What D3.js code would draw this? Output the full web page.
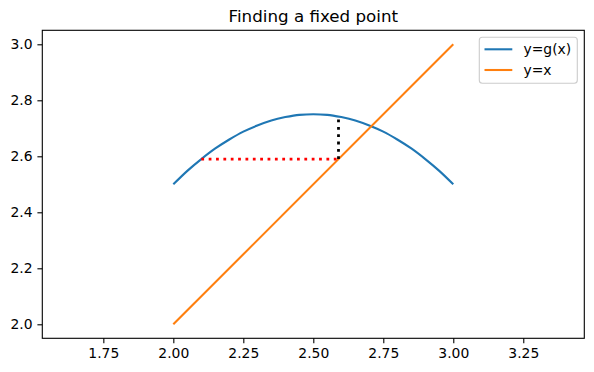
<!DOCTYPE html>
<html><head><meta charset="utf-8">
<script src="https://cdn.jsdelivr.net/npm/d3@7"></script>
<style>body{margin:0;background:#fff}text{font-family:"DejaVu Sans",sans-serif}</style>
</head><body><svg id="c" width="594" height="372"></svg>
<script>
const gX = [2.00,2.05,2.10,2.15,2.20,2.25,2.30,2.35,2.40,2.45,2.50,2.55,2.60,2.65,2.70,2.75,2.80,2.85,2.90,2.95,3.00];
const gY = [2.500,2.548,2.590,2.628,2.660,2.688,2.710,2.728,2.740,2.748,2.750,2.748,2.740,2.728,2.710,2.688,2.660,2.628,2.590,2.548,2.500];
const idX = [2.0, 3.0];
const idY = [2.0, 3.0];
const redX = [2.10, 2.59];
const redY = [2.59, 2.59];
const blackX = [2.59, 2.59];
const blackY = [2.59, 2.742];
const xTicks = [1.75, 2.00, 2.25, 2.50, 2.75, 3.00, 3.25];
const yTicks = [2.0, 2.2, 2.4, 2.6, 2.8, 3.0];
const legendLabels = ["y=g(x)", "y=x"];
const colors = ["#1f77b4", "#ff7f0e"];

const svg = d3.select("#c");
const L = 42.3, R = 584.3, T = 30.3, B = 338.3;
const x = d3.scaleLinear().domain([1.532, 3.468]).range([L, R]);
const y = d3.scaleLinear().domain([1.95, 3.05]).range([B, T]);

const line = d3.line().x(d => x(d[0])).y(d => y(d[1]));
const zip = (a, b) => a.map((v, i) => [v, b[i]]);

const g = svg.append("g");
g.append("path").attr("d", d3.line().curve(d3.curveMonotoneX).x(d=>x(d[0])).y(d=>y(d[1]))(zip(gX, gY)))
  .attr("fill","none").attr("stroke",colors[0]).attr("stroke-width",2.08);
g.append("path").attr("d", line(zip(idX, idY)))
  .attr("fill","none").attr("stroke",colors[1]).attr("stroke-width",2.08);
g.append("path").attr("d", line(zip(redX, redY)))
  .attr("fill","none").attr("stroke","red").attr("stroke-width",2.78).attr("stroke-dasharray","2.78,4.58");
g.append("path").attr("d", line(zip(blackX, blackY)))
  .attr("fill","none").attr("stroke","black").attr("stroke-width",2.78).attr("stroke-dasharray","2.78,4.58");

const xa = svg.append("g").attr("transform",`translate(0,${B})`)
  .call(d3.axisBottom(x).tickValues(xTicks).tickFormat(d3.format(".2f")).tickSize(4.9).tickPadding(4.9));
const ya = svg.append("g").attr("transform",`translate(${L},0)`)
  .call(d3.axisLeft(y).tickValues(yTicks).tickFormat(d3.format(".1f")).tickSize(4.9).tickPadding(4.9));
[xa, ya].forEach(a => {
  a.select(".domain").remove();
  a.selectAll("text").attr("font-size","13.9px").attr("fill","#000").attr("font-family","DejaVu Sans");
  a.selectAll("line").attr("stroke","#000").attr("stroke-width",1.1);
});
svg.append("rect").attr("x",L).attr("y",T).attr("width",R-L).attr("height",B-T)
  .attr("fill","none").attr("stroke","#000").attr("stroke-width",1.1);

svg.append("text").attr("x",(L+R)/2).attr("y",22).attr("text-anchor","middle")
  .attr("font-size","16.7px").text("Finding a fixed point");

const lg = svg.append("g");
lg.append("rect").attr("x",479.3).attr("y",37.3).attr("width",98).attr("height",46).attr("rx",3)
  .attr("fill","#fff").attr("fill-opacity",0.8).attr("stroke","#ccc").attr("stroke-width",1.1);
legendLabels.forEach((t,i) => {
  const yy = 49.3 + i*20.7;
  lg.append("line").attr("x1",484.5).attr("x2",512.3).attr("y1",yy).attr("y2",yy)
    .attr("stroke",colors[i]).attr("stroke-width",2.08);
  lg.append("text").attr("x",523.5).attr("y",yy+5).attr("font-size","13.9px").text(t);
});
</script></body></html>
